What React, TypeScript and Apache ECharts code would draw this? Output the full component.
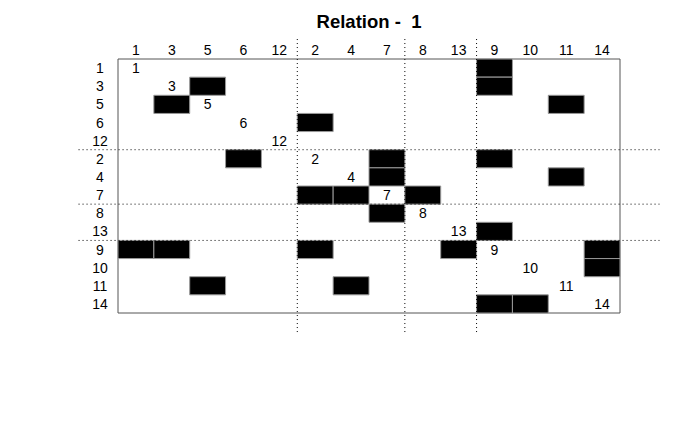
import React, { useEffect, useRef } from "react";
import * as echarts from "echarts";

// Actor order (rows and columns)
const actorOrder = ["1", "3", "5", "6", "12", "2", "4", "7", "8", "13", "9", "10", "11", "14"];

// Ties [from, to] by actor label
const ties: [string, string][] = [
  ["1", "9"],
  ["3", "5"], ["3", "9"],
  ["5", "3"], ["5", "11"],
  ["6", "2"],
  ["2", "6"], ["2", "7"], ["2", "9"],
  ["4", "7"], ["4", "11"],
  ["7", "2"], ["7", "4"], ["7", "8"],
  ["8", "7"],
  ["13", "9"],
  ["9", "1"], ["9", "3"], ["9", "2"], ["9", "13"], ["9", "14"],
  ["10", "14"],
  ["11", "5"], ["11", "4"],
  ["14", "9"], ["14", "10"],
];

// Block boundaries (number of actors before each separator)
const blockCuts = [5, 8, 10];

const titleText = "Relation -  1";
const FONT = "'Liberation Sans', Arial, Helvetica, sans-serif";

export default function App() {
  const ref = useRef<HTMLDivElement>(null);
  useEffect(() => {
    if (!ref.current) return;
    const chart = echarts.init(ref.current, undefined, { renderer: "svg" });
    const idx = (a: string) => actorOrder.indexOf(a);
    const tieData = ties.map(([f, t]) => [idx(t), idx(f)]);
    const diagData = actorOrder.map((a, i) => [i, i, a]);
    const n = actorOrder.length;
    const ext = 1.1;

    chart.setOption({
      animation: false,
      backgroundColor: "#fff",
      title: {
        text: titleText,
        left: 364,
        textAlign: "center",
        top: 7,
        textStyle: { fontFamily: FONT, fontSize: 18.5, fontWeight: "bold", color: "#000" },
      },
      grid: {
        left: 118,
        top: 59,
        width: 502,
        height: 254,
        show: true,
        borderColor: "#555",
        borderWidth: 1,
        backgroundColor: "transparent",
      },
      xAxis: {
        type: "category",
        data: actorOrder,
        position: "top",
        axisLine: { show: false },
        axisTick: { show: false },
        splitLine: { show: false },
        axisLabel: {
          interval: 0,
          margin: 9,
          verticalAlign: "middle",
          fontFamily: FONT,
          fontSize: 14,
          color: "#000",
        },
      },
      yAxis: {
        type: "category",
        data: actorOrder,
        inverse: true,
        axisLine: { show: false },
        axisTick: { show: false },
        splitLine: { show: false },
        axisLabel: {
          interval: 0,
          margin: 18,
          align: "center",
          fontFamily: FONT,
          fontSize: 14,
          color: "#000",
        },
      },
      series: [
        {
          type: "custom",
          name: "ties",
          data: tieData,
          renderItem: (params: any, api: any) => {
            const c = api.coord([api.value(0), api.value(1)]);
            const s = api.size([1, 1]);
            return {
              type: "rect",
              shape: { x: c[0] - s[0] / 2, y: c[1] - s[1] / 2, width: s[0], height: s[1] },
              style: { fill: "#000", stroke: "#999", lineWidth: 1 },
            };
          },
        },
        {
          type: "custom",
          name: "diag",
          data: diagData,
          renderItem: (params: any, api: any) => {
            const c = api.coord([api.value(0), api.value(1)]);
            return {
              type: "text",
              x: c[0],
              y: c[1],
              style: {
                text: actorOrder[params.dataIndex],
                fill: "#000",
                fontSize: 14,
                fontFamily: FONT,
                align: "center",
                verticalAlign: "middle",
              },
            };
          },
        },
        {
          type: "custom",
          name: "vsep",
          clip: false,
          data: blockCuts.map((k) => [k, 0]),
          renderItem: (params: any, api: any) => {
            const k = api.value(0);
            const s = api.size([1, 1]);
            const x = api.coord([k, 0])[0] - s[0] / 2;
            const top = api.coord([0, 0])[1] - s[1] / 2;
            const bottom = api.coord([0, n - 1])[1] + s[1] / 2;
            return {
              type: "line",
              shape: { x1: x, y1: top - ext * s[1], x2: x, y2: bottom + ext * s[1] },
              style: { stroke: "#000", lineWidth: 1, lineDash: [1, 3] },
            };
          },
        },
        {
          type: "custom",
          name: "hsep",
          clip: false,
          data: blockCuts.map((k) => [0, k]),
          renderItem: (params: any, api: any) => {
            const k = api.value(1);
            const s = api.size([1, 1]);
            const y = api.coord([0, k])[1] - s[1] / 2;
            const left = api.coord([0, 0])[0] - s[0] / 2;
            const right = api.coord([n - 1, 0])[0] + s[0] / 2;
            return {
              type: "line",
              shape: { x1: left - ext * s[0], y1: y, x2: right + ext * s[0], y2: y },
              style: { stroke: "#000", lineWidth: 1, lineDash: [1, 3] },
            };
          },
        },
      ],
    });
    return () => chart.dispose();
  }, []);
  return (
    <div
      ref={ref}
      style={{ position: "fixed", left: 0, top: 0, width: 700, height: 432 }}
    />
  );
}
